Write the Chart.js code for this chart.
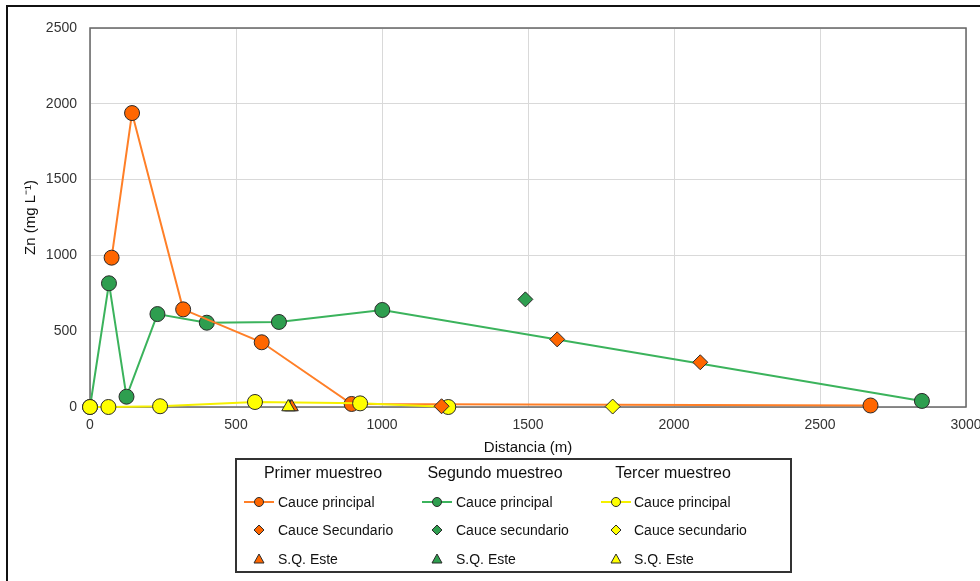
<!DOCTYPE html>
<html lang="es">
<head>
<meta charset="UTF-8">
<title>Zn frente a distancia</title>
<script src="https://cdn.jsdelivr.net/npm/chart.js"></script>
<style>
  body { margin: 0; background: #fff; font-family: "Liberation Sans", Arial, sans-serif; }
  #wrap { position: relative; width: 980px; height: 581px; overflow: hidden; }
  #frame { position: absolute; left: 6px; top: 5px; width: 980px; height: 590px; border-left: 2px solid #111; border-top: 2px solid #111; }
  #legend { position: absolute; left: 235px; top: 458px; width: 553px; height: 111px; border: 2px solid #333; background: #fff; }
  #legend .head { position: absolute; width: 200px; text-align: center; font-size: 16px; line-height: 20px; color: #111; }
  #legend .item { position: absolute; font-size: 14px; line-height: 18px; color: #111; white-space: nowrap; }
  #legend svg { position: absolute; }
</style>
</head>
<body>
<div id="wrap">
  <canvas id="chart" width="980" height="581"></canvas>
  <div id="frame"></div>
  <div id="legend"></div>
</div>

<script>
// Data (distance in m, Zn in mg/L)
const primerPrincipalX = [74, 144, 319, 588, 896, 2673];
const primerPrincipalY = [985, 1939, 644, 427, 20, 10];
const primerSecundarioX = [1204, 1600, 2090];
const primerSecundarioY = [5, 446, 295];
const primerSQX = [691];
const primerSQY = [0];

const segundoPrincipalX = [0, 65, 125, 231, 400, 647, 1001, 2849];
const segundoPrincipalY = [0, 816, 68, 613, 556, 561, 640, 40];
const segundoSecundarioX = [1491];
const segundoSecundarioY = [710];
const segundoSQX = [685];
const segundoSQY = [0];

const tercerPrincipalX = [0, 63, 240, 565, 925, 1227];
const tercerPrincipalY = [0, 0, 5, 33, 24, 0];
const tercerSecundarioX = [1790];
const tercerSecundarioY = [3];
const tercerSQX = [679];
const tercerSQY = [0];

const muestreos = ['Primer muestreo', 'Segundo muestreo', 'Tercer muestreo'];
const xTicks = [0, 500, 1000, 1500, 2000, 2500, 3000];
const yTicks = [0, 500, 1000, 1500, 2000, 2500];

const orange = { fill: '#ff6600', line: '#ff7f27' };
const green = { fill: '#2e9e4f', line: '#3bb35c' };
const yellow = { fill: '#ffff00', line: '#f5f000' };

function toPoints(xs, ys) {
    return xs.map((x, i) => ({ x: x, y: ys[i] }));
}

function makeSet(label, xs, ys, color, style, withLine, order, col) {
    return {
        label: label,
        data: toPoints(xs, ys),
        showLine: withLine,
        borderColor: color.line,
        borderWidth: 2,
        backgroundColor: color.fill,
        pointStyle: style,
        pointRadius: 7.5,
        pointBackgroundColor: color.fill,
        pointBorderColor: '#2a2a2a',
        pointBorderWidth: 1,
        order: order,
        clip: false,
        col: col
    };
}

const datasets = [
    makeSet('Cauce principal', primerPrincipalX, primerPrincipalY, orange, 'circle', true, 6, 0),
    makeSet('Cauce Secundario', primerSecundarioX, primerSecundarioY, orange, 'rectRot', false, 1, 0),
    makeSet('S.Q. Este', primerSQX, primerSQY, orange, 'triangle', false, 3, 0),
    makeSet('Cauce principal', segundoPrincipalX, segundoPrincipalY, green, 'circle', true, 8, 1),
    makeSet('Cauce secundario', segundoSecundarioX, segundoSecundarioY, green, 'rectRot', false, 7, 1),
    makeSet('S.Q. Este', segundoSQX, segundoSQY, green, 'triangle', false, 4, 1),
    makeSet('Cauce principal', tercerPrincipalX, tercerPrincipalY, yellow, 'circle', true, 5, 2),
    makeSet('Cauce secundario', tercerSecundarioX, tercerSecundarioY, yellow, 'rectRot', false, 2, 2),
    makeSet('S.Q. Este', tercerSQX, tercerSQY, yellow, 'triangle', false, 0, 2)
];

// box around the plot area, drawn under the markers
const plotFrame = {
    id: 'plotFrame',
    beforeDatasetsDraw(chart) {
        const { ctx, chartArea: a } = chart;
        ctx.save();
        ctx.strokeStyle = '#666';
        ctx.lineWidth = 1.5;
        ctx.strokeRect(a.left, a.top, a.right - a.left, a.bottom - a.top);
        ctx.restore();
    }
};

const font = "'Liberation Sans', Arial, sans-serif";
const plain = (v) => String(v);

new Chart(document.getElementById('chart'), {
    type: 'scatter',
    data: { datasets: datasets },
    plugins: [plotFrame],
    options: {
        responsive: false,
        animation: false,
        devicePixelRatio: 1,
        layout: { padding: { left: 10, top: 28, right: 14, bottom: 122 } },
        plugins: { legend: { display: false }, tooltip: { enabled: false } },
        scales: {
            x: {
                type: 'linear',
                min: xTicks[0],
                max: xTicks[xTicks.length - 1],
                afterBuildTicks: (s) => { s.ticks = xTicks.map(v => ({ value: v })); },
                afterFit: (s) => { s.height = 52; s.paddingRight = 0; s.paddingLeft = 0; },
                ticks: { padding: 10, color: '#333', callback: plain, font: { family: font, size: 14 } },
                grid: { color: '#d9d9d9', drawTicks: false },
                border: { display: false },
                title: { display: true, text: 'Distancia (m)', color: '#111', padding: { top: 2, bottom: 2 }, font: { family: font, size: 15 } }
            },
            y: {
                min: yTicks[0],
                max: yTicks[yTicks.length - 1],
                afterBuildTicks: (s) => { s.ticks = yTicks.map(v => ({ value: v })); },
                afterFit: (s) => { s.width = 80; },
                ticks: { padding: 13, color: '#333', callback: plain, font: { family: font, size: 14 } },
                grid: { color: '#d9d9d9', drawTicks: false },
                border: { display: false },
                title: { display: true, text: 'Zn (mg L⁻¹)', color: '#111', padding: { top: 12, bottom: 0 }, font: { family: font, size: 15 } }
            }
        }
    }
});

// Legend: three columns, one per muestreo
const legend = document.getElementById('legend');
const headX = [323, 495, 673];
const markX = [259, 437, 616];
const textX = [278, 456, 634];
const rowY = [502, 530, 559];
const boxLeft = 237, boxTop = 460;

function markerSvg(ds) {
    const c = ds.pointBackgroundColor;
    let shape = '';
    if (ds.pointStyle === 'circle') {
        shape = `<line x1="1" y1="8" x2="31" y2="8" stroke="${ds.borderColor}" stroke-width="2"/>` +
            `<circle cx="16" cy="8" r="4.5" fill="${c}" stroke="#2a2a2a" stroke-width="1"/>`;
    } else if (ds.pointStyle === 'rectRot') {
        shape = `<polygon points="16,3 21,8 16,13 11,8" fill="${c}" stroke="#2a2a2a" stroke-width="1"/>`;
    } else {
        shape = `<polygon points="16,3 21,12 11,12" fill="${c}" stroke="#2a2a2a" stroke-width="1"/>`;
    }
    return `<svg width="32" height="16">${shape}</svg>`;
}

muestreos.forEach((name, col) => {
    const h = document.createElement('div');
    h.className = 'head';
    h.textContent = name;
    h.style.left = (headX[col] - 100 - boxLeft) + 'px';
    h.style.top = (473 - 10 - boxTop) + 'px';
    legend.appendChild(h);

    datasets.filter(ds => ds.col === col).forEach((ds, row) => {
        const holder = document.createElement('div');
        holder.innerHTML = markerSvg(ds);
        const svg = holder.firstChild;
        svg.style.left = (markX[col] - 16 - boxLeft) + 'px';
        svg.style.top = (rowY[row] - 8 - boxTop) + 'px';
        legend.appendChild(svg);

        const t = document.createElement('div');
        t.className = 'item';
        t.textContent = ds.label;
        t.style.left = (textX[col] - boxLeft) + 'px';
        t.style.top = (rowY[row] - 9 - boxTop) + 'px';
        legend.appendChild(t);
    });
});
</script>
</body>
</html>
